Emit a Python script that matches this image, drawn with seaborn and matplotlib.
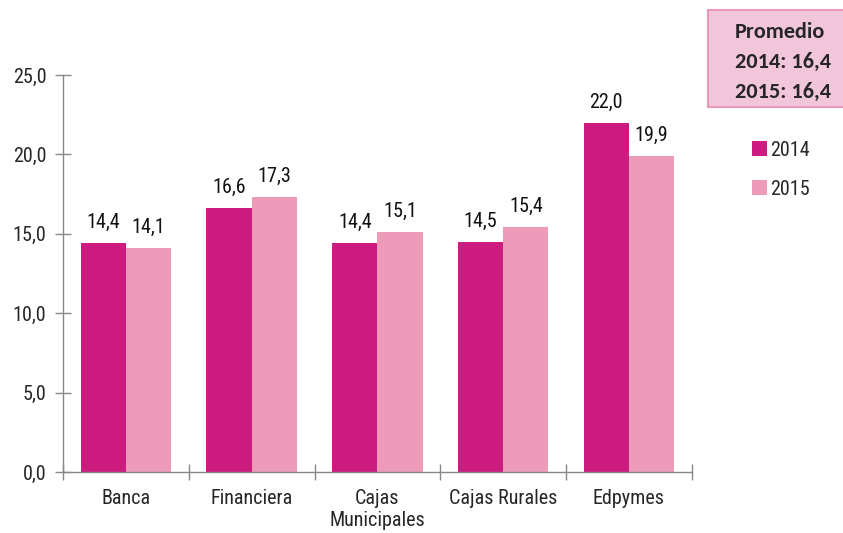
import matplotlib
matplotlib.use("Agg")
import matplotlib.pyplot as plt
import seaborn as sns
import pandas as pd
from matplotlib.patches import Patch

# data
categories = ["Banca", "Financiera", "Cajas\nMunicipales", "Cajas Rurales", "Edpymes"]
values_2014 = [14.4, 16.6, 14.4, 14.5, 22.0]
values_2015 = [14.1, 17.3, 15.1, 15.4, 19.9]
years = ["2014", "2015"]
promedio = {"2014": "16,4", "2015": "16,4"}

df = pd.DataFrame({
    "categoria": categories * 2,
    "anio": [years[0]] * 5 + [years[1]] * 5,
    "valor": values_2014 + values_2015,
})

sns.set_style("white")
plt.rcParams["font.family"] = ["Roboto Condensed", "Liberation Sans", "DejaVu Sans"]

colors = ["#CC1C7F", "#EE9AB9"]
fs = 14.5

fig = plt.figure(figsize=(8.43, 5.33), dpi=100)
ax = fig.add_axes([0.0747, 0.1144, 0.746, 0.745])

sns.barplot(data=df, x="categoria", y="valor", hue="anio", palette=colors,
            width=0.72, saturation=1, ax=ax, legend=False,
            edgecolor="none", linewidth=0)

# value labels
for cont in ax.containers:
    labels = [f"{v:.1f}".replace(".", ",") for v in cont.datavalues]
    ax.bar_label(cont, labels=labels, padding=8, fontsize=fs, color="#111111")

ax.set_ylim(0, 25)
ax.set_xlim(-0.5, 4.5)
ax.set_yticks([0, 5, 10, 15, 20, 25])
ax.set_yticklabels([f"{t:.1f}".replace(".", ",") for t in [0, 5, 10, 15, 20, 25]])
ax.set_xlabel("")
ax.set_ylabel("")

# category boundary ticks on x axis
ax.set_xticks([i - 0.5 for i in range(6)], minor=True)
ax.tick_params(axis="x", which="major", bottom=False, length=0, labelsize=fs, pad=12)
ax.tick_params(axis="x", which="minor", bottom=True, length=12, width=1,
               direction="inout", color="#888888")
ax.tick_params(axis="y", left=True, length=12, width=1, direction="inout",
               color="#888888", labelsize=fs, pad=6)

sns.despine(ax=ax, top=True, right=True)
for s in ["left", "bottom"]:
    ax.spines[s].set_color("#888888")
    ax.spines[s].set_linewidth(1.0)

# legend
handles = [Patch(facecolor=c, edgecolor="none") for c in colors]
fig.legend(handles, years, loc="upper left", bbox_to_anchor=(0.87, 0.77),
           frameon=False, fontsize=fs, handlelength=0.75, handleheight=0.75,
           handletextpad=0.15, labelspacing=1.0)

# promedio box
fig.patches.append(plt.Rectangle((708 / 843, 1 - 107 / 533), 140 / 843, 97 / 533,
                                 transform=fig.transFigure, facecolor="#F2C6DA",
                                 edgecolor="#E899B8", linewidth=1.5))
txt = "Promedio\n2014: " + promedio["2014"] + "\n2015: " + promedio["2015"]
fig.text(735 / 843, 1 - 62 / 533, txt, ha="left", va="center", fontsize=16,
         fontweight="bold", family=["Carlito", "DejaVu Sans"], linespacing=1.6)

fig.savefig("out.png", dpi=100)
